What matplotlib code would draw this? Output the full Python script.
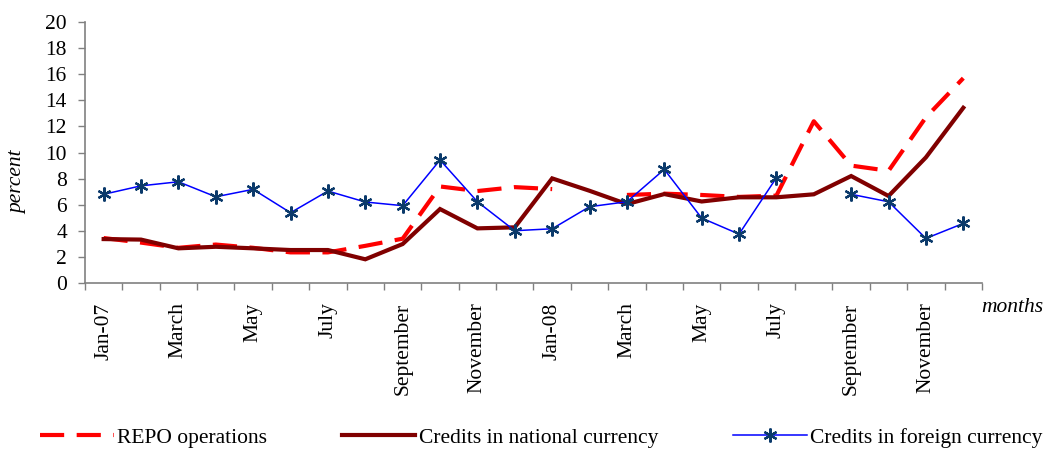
import numpy as np
import matplotlib.pyplot as plt

nan = np.nan

months = ["Jan-07", "Feb", "March", "Apr", "May", "Jun", "July", "Aug",
          "September", "Oct", "November", "Dec",
          "Jan-08", "Feb", "March", "Apr", "May", "Jun", "July", "Aug",
          "September", "Oct", "November", "Dec"]
shown = ["Jan-07", "March", "May", "July", "September", "November",
         "Jan-08", "March", "May", "July", "September", "November"]

repo = [3.45, 3.1, 2.7, 2.95, 2.7, 2.35, 2.35, 2.85, 3.4, 7.4, 7.05, 7.35,
        7.2, nan, 6.75, 6.85, 6.75, 6.6, 6.7, 12.4, 9.0, 8.6, 12.7, 15.7]
national = [3.37, 3.33, 2.66, 2.78, 2.66, 2.53, 2.53, 1.82, 2.99, 5.67, 4.19, 4.27,
            8.02, 7.07, 6.05, 6.82, 6.25, 6.57, 6.57, 6.8, 8.2, 6.67, 9.63, 13.43]
foreign = [6.8, 7.45, 7.76, 6.61, 7.18, 5.39, 7.05, 6.21, 5.93, 9.43, 6.23, 4.01,
           4.16, 5.85, 6.23, 8.71, 4.98, 3.75, 8.07, nan, 6.8, 6.23, 3.42, 4.57]

plt.rcParams["font.family"] = ["Liberation Serif", "DejaVu Serif"]
plt.rcParams["font.size"] = 15.5

fig = plt.figure(figsize=(10.45, 4.5), dpi=100)
ax = fig.add_axes([0.0813, 0.371, 0.8584, 0.580])

x = np.arange(len(months))
ax.plot(x, repo, color="#FF0000", lw=3, dashes=(5.8, 3.0),
        solid_capstyle="butt", dash_capstyle="butt", label="REPO operations", zorder=2)
ax.plot(x, national, color="#800000", lw=3, solid_joinstyle="miter",
        label="Credits in national currency", zorder=3)
ax.plot(x, foreign, color="#0000FF", lw=1.1, marker=(6, 2, 0), markersize=10,
        markeredgewidth=1.6, markeredgecolor="#0B3A6B", markerfacecolor="#0B3A6B",
        label="Credits in foreign currency", zorder=4)

ax.set_xlim(-0.5, len(months) - 0.5)
ax.set_ylim(0, 20)
ax.set_yticks(np.arange(0, 21, 2))

# ticks sit between months, labels under every second month
ax.set_xticks(np.arange(-0.5, len(months), 1))
ax.set_xticklabels([])
ax.set_xticks(x[::2], minor=True)
ax.set_xticklabels(shown, minor=True, rotation=90, va="top", ha="center")
ax.tick_params(axis="x", which="minor", length=0, pad=14)
ax.tick_params(axis="x", which="major", length=5, width=1, color="#808080", direction="out")
ax.tick_params(axis="y", length=5, width=1, color="#808080", direction="out", pad=8)

for side in ("top", "right"):
    ax.spines[side].set_visible(False)
for side in ("left", "bottom"):
    ax.spines[side].set_color("#808080")
    ax.spines[side].set_linewidth(1.2)

fig.text(18 / 1045, 1 - 182 / 450, "percent", rotation=90, style="italic",
         ha="center", va="center")
fig.text(1012 / 1045, 1 - 308 / 450, "months", style="italic",
         ha="center", va="center")

fig.legend(loc="center", bbox_to_anchor=(0.518, 0.027), ncol=3, frameon=False,
           handlelength=3.4, handletextpad=0.15, columnspacing=3.5,
           borderaxespad=0)

fig.savefig("out.png", dpi=100)
